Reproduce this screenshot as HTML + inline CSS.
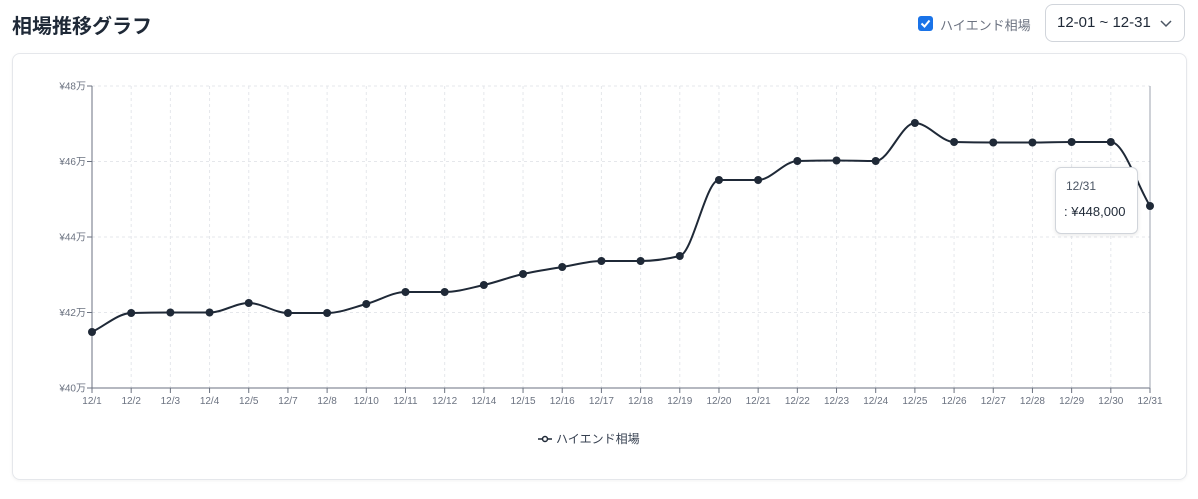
<!DOCTYPE html>
<html><head><meta charset="utf-8"><style>
body{margin:0;width:1198px;height:499px;background:#fff;font-family:"Liberation Sans","Noto Sans CJK JP",sans-serif;position:relative;overflow:hidden}
.t{position:absolute;left:12px;top:10px;font-size:20px;font-weight:bold;color:#1f2937}
.cb{position:absolute;left:918px;top:16px;width:15px;height:15px;background:#1a73e8;border-radius:3px}
.cbl{position:absolute;left:940px;top:15px;font-size:13px;color:#6b7280}
.sel{position:absolute;left:1045px;top:4px;width:140px;height:38px;border:1px solid #d1d5db;border-radius:8px;box-sizing:border-box;font-size:15px;color:#1f2937;line-height:36px;padding-left:11px}
.card{position:absolute;left:12px;top:53px;width:1175px;height:427px;border:1px solid #e5e7eb;border-radius:8px;box-sizing:border-box;box-shadow:0 1px 3px rgba(0,0,0,.05)}
.tip{position:absolute;left:1055px;top:167px;width:83px;height:67px;border:1px solid #d1d5db;border-radius:6px;background:#fff;box-sizing:border-box;box-shadow:0 1px 4px rgba(0,0,0,.1)}
</style></head><body>
<div class="t">相場推移グラフ</div>
<div class="cb"><svg width="15" height="15"><path d="M3.5 7.5l3 3 5-6" stroke="#fff" stroke-width="2" fill="none"/></svg></div>
<div class="cbl">ハイエンド相場</div>
<div class="sel">12-01 ~ 12-31<svg style="position:absolute;right:12px;top:15px" width="12" height="8"><path d="M1 1l5 5 5-5" stroke="#4b5563" stroke-width="1.5" fill="none"/></svg></div>
<div class="card"></div>
<svg id="c" style="position:absolute;left:0;top:0" width="1198" height="499" font-family="Liberation Sans, Noto Sans CJK JP, sans-serif"></svg>
<div class="tip"><div style="position:absolute;left:10px;top:11px;font-size:12px;color:#4b5563">12/31</div><div style="position:absolute;left:8px;top:36px;font-size:13px;color:#1f2937">: ¥448,000</div></div>
<script>
var L=["12/1","12/2","12/3","12/4","12/5","12/7","12/8","12/10","12/11","12/12","12/14","12/15","12/16","12/17","12/18","12/19","12/20","12/21","12/22","12/23","12/24","12/25","12/26","12/27","12/28","12/29","12/30","12/31"];
var Y=[332,313,312.5,312.5,303,313,313,304,292,292,285,274,267,261,261,256,180,180,161,160.5,161,123,142,142.5,142.5,142,142,206];
var x0=92,x1=1150,st=(x1-x0)/27,s='';
for(var i=0;i<28;i++){var x=x0+i*st;s+='<line x1="'+x+'" y1="86" x2="'+x+'" y2="388" stroke="#e5e7eb" stroke-dasharray="3 3"/>';
s+='<line x1="'+x+'" y1="388" x2="'+x+'" y2="393" stroke="#6b7280"/>';
s+='<text x="'+x+'" y="404" font-size="10" fill="#6b7280" text-anchor="middle">'+L[i]+'</text>';}
for(var k=0;k<5;k++){var y=86+k*75.5;s+='<line x1="92" y1="'+y+'" x2="1150" y2="'+y+'" stroke="#e5e7eb" stroke-dasharray="3 3"/>';
s+='<line x1="87" y1="'+y+'" x2="92" y2="'+y+'" stroke="#6b7280"/><text x="86" y="'+(y+3.5)+'" font-size="10" fill="#6b7280" text-anchor="end">¥'+(48-2*k)+'万</text>';}
s+='<line x1="92" y1="86" x2="92" y2="388" stroke="#6b7280"/><line x1="92" y1="388" x2="1150" y2="388" stroke="#6b7280"/><line x1="1150" y1="86" x2="1150" y2="388" stroke="#9ca3af"/>';
var n=28,X=[];for(i=0;i<n;i++)X.push(x0+i*st);
var d=[],m=[];for(i=0;i<n-1;i++)d.push((Y[i+1]-Y[i])/st);
m[0]=d[0];m[n-1]=d[n-2];for(i=1;i<n-1;i++){m[i]=(d[i-1]*d[i]<=0)?0:2/(1/d[i-1]+1/d[i]);}
var p='M'+X[0]+','+Y[0];for(i=0;i<n-1;i++){var h=st/3;p+='C'+(X[i]+h)+','+(Y[i]+m[i]*h)+' '+(X[i+1]-h)+','+(Y[i+1]-m[i+1]*h)+' '+X[i+1]+','+Y[i+1];}
s+='<path d="'+p+'" stroke="#1f2937" stroke-width="2" fill="none"/>';
for(i=0;i<n;i++)s+='<circle cx="'+X[i]+'" cy="'+Y[i]+'" r="4" fill="#1f2937"/>';
s+='<line x1="538" y1="439" x2="552" y2="439" stroke="#1f2937" stroke-width="1.5"/><circle cx="545" cy="439" r="2.5" fill="#fff" stroke="#1f2937" stroke-width="1.5"/><text x="556" y="443" font-size="12" fill="#374151">ハイエンド相場</text>';
document.getElementById('c').innerHTML=s;
</script>
</body></html>
